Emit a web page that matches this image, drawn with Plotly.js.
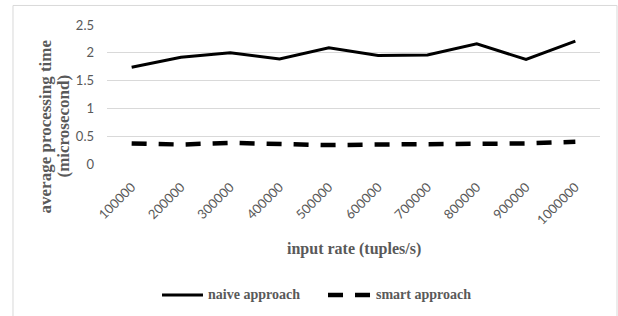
<!DOCTYPE html>
<html>
<head>
<meta charset="utf-8">
<script src="https://cdn.plot.ly/plotly-3.0.1.min.js"></script>
<style>
html,body{margin:0;padding:0;background:#fff;}
#chart{width:618px;height:316px;}
</style>
</head>
<body>
<div id="chart"></div>
<script>
var categories = ["100000","200000","300000","400000","500000","600000","700000","800000","900000","1000000"];
var naiveValues = [1.74, 1.92, 2.0, 1.89, 2.09, 1.95, 1.96, 2.16, 1.88, 2.21];
var smartValues = [0.37, 0.35, 0.38, 0.35, 0.34, 0.35, 0.35, 0.35, 0.37, 0.40];
var yTickValues = [0, 0.5, 1, 1.5, 2, 2.5];
var yTickLabels = ["0", "0.5", "1", "1.5", "2", "2.5"];
var seriesNames = ["naive approach", "smart approach"];
var xTitle = "input rate (tuples/s)";
var yTitleLines = ["average processing time", "(microsecond)"];

var serif = "Liberation Serif, Times New Roman, serif";
var smartDash = "15px,12px";
var traces = [
  {x: categories, y: naiveValues, name: seriesNames[0], type: "scatter", mode: "lines",
   line: {color: "#000000", width: 3}, showlegend: false},
  {x: categories, y: smartValues, name: seriesNames[1], type: "scatter", mode: "lines",
   line: {color: "#000000", width: 4.5, dash: smartDash}, showlegend: false}
];

// legend drawn as keys + labels below the plot (paper coordinates)
var legY = -0.9424;
var legendFont = {family: serif, size: 14, color: "#595959", weight: "bold"};
var yTitleFont = {family: serif, size: 17, color: "#595959", weight: "bold"};

var layout = {
  width: 618, height: 316,
  margin: {l: 107, r: 18, t: 25, b: 152},
  paper_bgcolor: "#ffffff", plot_bgcolor: "#ffffff",
  showlegend: false,
  xaxis: {type: "category", range: [-0.5, categories.length - 0.5], tickangle: -45,
          showgrid: false, zeroline: false, showline: false,
          ticks: "", ticklabelstandoff: 12,
          tickfont: {family: "Lato, Calibri, sans-serif", size: 13, color: "#595959"},
          fixedrange: true},
  yaxis: {range: [0, 2.5], tickvals: yTickValues, ticktext: yTickLabels, showgrid: true,
          gridcolor: "#d9d9d9", gridwidth: 1, zeroline: false, showline: false, ticks: "",
          ticklabelstandoff: 12,
          tickfont: {family: "Lato, Calibri, sans-serif", size: 13, color: "#595959"},
          fixedrange: true},
  annotations: [
    {text: yTitleLines[0], xref: "paper", yref: "paper", x: -0.1258, y: 0.27, xanchor: "center", yanchor: "middle",
     textangle: -90, showarrow: false, font: yTitleFont},
    {text: yTitleLines[1], xref: "paper", yref: "paper", x: -0.0892, y: 0.27, xanchor: "center", yanchor: "middle",
     textangle: -90, showarrow: false, font: yTitleFont},
    {text: xTitle, xref: "paper", yref: "paper", x: 0.501, y: -0.61, xanchor: "center", yanchor: "middle",
     showarrow: false, font: {family: serif, size: 16, color: "#595959", weight: "bold"}},
    {text: seriesNames[0], xref: "paper", yref: "paper", x: 0.2009, y: legY, xanchor: "left", yanchor: "middle",
     showarrow: false, font: legendFont},
    {text: seriesNames[1], xref: "paper", yref: "paper", x: 0.5416, y: legY, xanchor: "left", yanchor: "middle",
     showarrow: false, font: legendFont}
  ],
  shapes: [
    {type: "rect", xref: "paper", yref: "paper", x0: -0.1907, x1: 1.0345, y0: -1.2, y1: 1.1406,
     line: {color: "#d9d9d9", width: 1}, fillcolor: "rgba(0,0,0,0)", layer: "below"},
    {type: "line", xref: "paper", yref: "paper", x0: 0.1116, x1: 0.1947, y0: legY, y1: legY,
     line: {color: "#000000", width: 3}},
    {type: "line", xref: "paper", yref: "paper", x0: 0.4483, x1: 0.5355, y0: legY, y1: legY,
     line: {color: "#000000", width: 4.5, dash: smartDash}}
  ]
};

Plotly.newPlot("chart", traces, layout, {displayModeBar: false, staticPlot: true});
</script>
</body>
</html>
